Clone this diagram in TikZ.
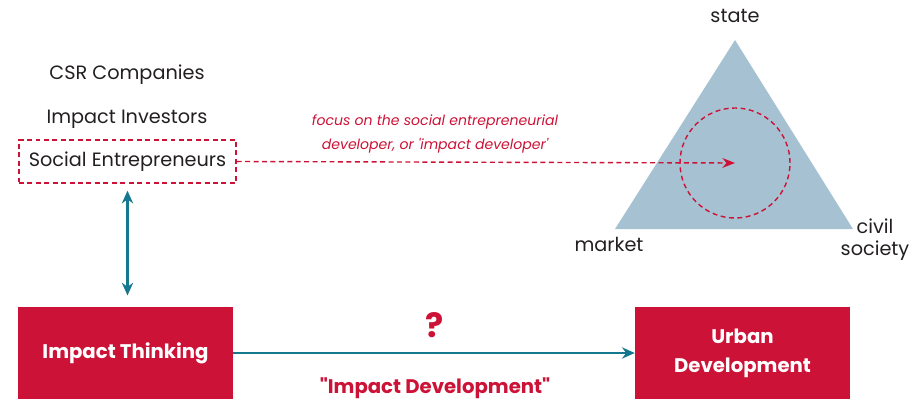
\documentclass[tikz,border=0pt]{standalone}
\usepackage{fontspec}
\setmainfont{Poppins}[Ligatures=TeXOff]
\usetikzlibrary{arrows.meta,positioning}
\definecolor{impred}{HTML}{CC1236}
\definecolor{impteal}{HTML}{16788F}
\definecolor{triblue}{HTML}{A6C2D2}
\definecolor{txtgrey}{HTML}{231F20}
\begin{document}
\begin{tikzpicture}[
    x=0.025cm, y=-0.025cm,
    label/.style={text=txtgrey, font=\fontsize{13.7}{16}\selectfont, inner sep=0pt},
    redbox/.style={rectangle, fill=impred, text=white, minimum width=5.375cm, minimum height=2.3cm, align=center, font=\bfseries\fontsize{14}{20.5}\selectfont},
    reddash/.style={draw=impred, dashed, line width=1pt, dash pattern=on 3.5pt off 2.5pt},
    tealarrow/.style={->, >={Stealth[length=9pt, width=8pt]}, draw=impteal, line width=1.7pt},
    note/.style={text=impred, font=\itshape\fontsize{10}{16.5}\selectfont, align=center}
]
    \useasboundingbox (0,0) rectangle (924,399);

    % Dreieck
    \coordinate (top) at (735,40);
    \coordinate (left) at (615,229);
    \coordinate (right) at (853,229);
    \fill[triblue] (top) -- (left) -- (right) -- cycle;
    \node[label] (state) at (735,16) {state};
    \node[label] (market) at (609,244) {market};
    \node[label, align=center, font=\fontsize{13.7}{15.5}\selectfont] (civil) at (875,240) {civil\\society};
    \node[reddash, circle, minimum size=2.75cm] (circ) at (735,163) {};

    % Akteure
    \node[label] (csr) at (127,75) {CSR Companies};
    \node[label] (investors) at (127,119) {Impact Investors};
    \node[label, reddash, minimum width=5.425cm, minimum height=1.075cm] (social) at (127.5,161.5) {Social Entrepreneurs};
    \node[note] (focus) at (435,134) {focus on the social entrepreneurial\\developer, or 'impact developer'};
    \draw[reddash, -{Stealth[length=9pt, width=7pt]}] (social.east) -- (circ.center);

    % Kaesten
    \node[redbox] (think) at (125.5,353) {Impact Thinking};
    \node[redbox] (urban) at (742.5,353) {Urban\\Development};
    \draw[tealarrow, <->, shorten <=5pt, shorten >=8pt] (social.south) -- (social.south |- think.north);
    \draw[tealarrow] (think) -- (urban);
    \node[text=impred, font=\bfseries\fontsize{24}{24}\selectfont] (quest) at (435,325) {?};
    \node[text=impred, font=\bfseries\fontsize{14}{16}\selectfont] (impdev) at (435,388) {"Impact Development"};
\end{tikzpicture}
\end{document}
